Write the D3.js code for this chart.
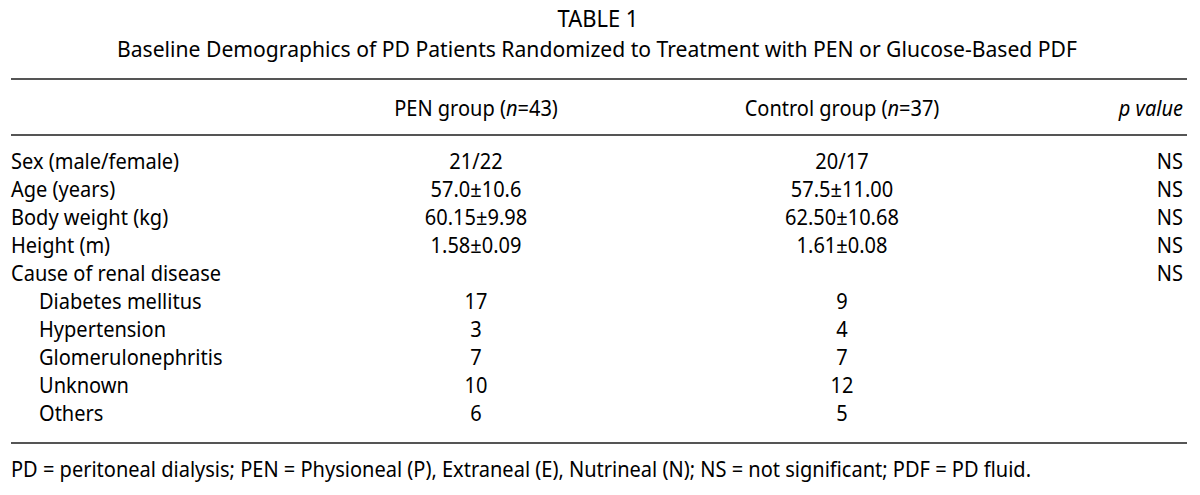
<!DOCTYPE html>
<html>
<head>
<meta charset="utf-8">
<script src="https://cdn.jsdelivr.net/npm/d3@7"></script>
<style>
  html, body { margin: 0; padding: 0; background: #fff; }
  svg { display: block; }
  text { font-family: "Noto Sans", "Open Sans", sans-serif; fill: #000; }
</style>
</head>
<body>
<svg id="chart" width="1200" height="495"></svg>
<script>
const title = "TABLE 1";
const subtitle = "Baseline Demographics of PD Patients Randomized to Treatment with PEN or Glucose-Based PDF";
const headers = [
  { key: "pen", parts: [["PEN group (", false], ["n", true], ["=43)", false]] },
  { key: "ctrl", parts: [["Control group (", false], ["n", true], ["=37)", false]] },
  { key: "p", parts: [["p value", true]] }
];
const rowLabels = ["Sex (male/female)", "Age (years)", "Body weight (kg)", "Height (m)", "Cause of renal disease",
  "Diabetes mellitus", "Hypertension", "Glomerulonephritis", "Unknown", "Others"];
const rowIndent = [false, false, false, false, false, true, true, true, true, true];
const penValues = ["21/22", "57.0±10.6", "60.15±9.98", "1.58±0.09", "", "17", "3", "7", "10", "6"];
const controlValues = ["20/17", "57.5±11.00", "62.50±10.68", "1.61±0.08", "", "9", "4", "7", "12", "5"];
const pValues = ["NS", "NS", "NS", "NS", "NS", "", "", "", "", ""];
const footnote = "PD = peritoneal dialysis; PEN = Physioneal (P), Extraneal (E), Nutrineal (N); NS = not significant; PDF = PD fluid.";

const svg = d3.select("#chart");

// scales
const y = d3.scalePoint().domain(d3.range(rowLabels.length)).range([169, 421]);
const colX = d3.scaleOrdinal().domain(["label", "indent", "pen", "ctrl", "p"]).range([11, 39, 476, 842, 1183]);
const colAnchor = { pen: "middle", ctrl: "middle", p: "end" };
const rules = [79, 135, 443];

// rules
svg.selectAll("line.rule").data(rules).join("line")
  .attr("class", "rule")
  .attr("x1", 11).attr("x2", 1187)
  .attr("y1", d => d).attr("y2", d => d)
  .attr("stroke", "#555").attr("stroke-width", 2);

const FS = 21;

// footnote first to derive the horizontal compression factor
const fn = svg.append("text").attr("x", 11).attr("y", 477).attr("font-size", FS).text(footnote);
const fnNat = fn.node().getComputedTextLength();
const k = 1020 / fnNat;
fn.attr("textLength", 1020).attr("lengthAdjust", "spacingAndGlyphs");

function fit(sel) {
  const n = sel.node().getComputedTextLength();
  sel.attr("textLength", n * k).attr("lengthAdjust", "spacingAndGlyphs");
  return sel;
}

fit(svg.append("text").attr("x", 598).attr("y", 27).attr("text-anchor", "middle").attr("font-size", 23).text(title));
const st = svg.append("text").attr("x", 597).attr("y", 57).attr("text-anchor", "middle").attr("font-size", 22.5).text(subtitle);
st.attr("textLength", 960).attr("lengthAdjust", "spacingAndGlyphs");

// headers: compressed through a group transform so the mixed-style runs stay in one line box
headers.forEach(h => {
  const g = svg.append("g").attr("transform", `translate(${colX(h.key)},116) scale(${k},1)`);
  const t = g.append("text").attr("x", 0).attr("y", 0)
    .attr("text-anchor", colAnchor[h.key]).attr("font-size", FS);
  t.selectAll("tspan").data(h.parts).join("tspan")
    .attr("font-style", d => d[1] ? "italic" : "normal")
    .text(d => d[0]);
});

// rows
const rows = svg.selectAll("g.row").data(rowLabels.map((l, i) => i)).join("g").attr("class", "row");
rows.each(function(i) {
  const g = d3.select(this);
  fit(g.append("text").attr("x", rowIndent[i] ? colX("indent") : colX("label")).attr("y", y(i))
    .attr("font-size", FS).text(rowLabels[i]));
  [["pen", penValues], ["ctrl", controlValues], ["p", pValues]].forEach(([key, arr]) => {
    if (arr[i]) {
      fit(g.append("text").attr("x", colX(key)).attr("y", y(i))
        .attr("text-anchor", colAnchor[key]).attr("font-size", FS).text(arr[i]));
    }
  });
});
</script>
</body>
</html>
